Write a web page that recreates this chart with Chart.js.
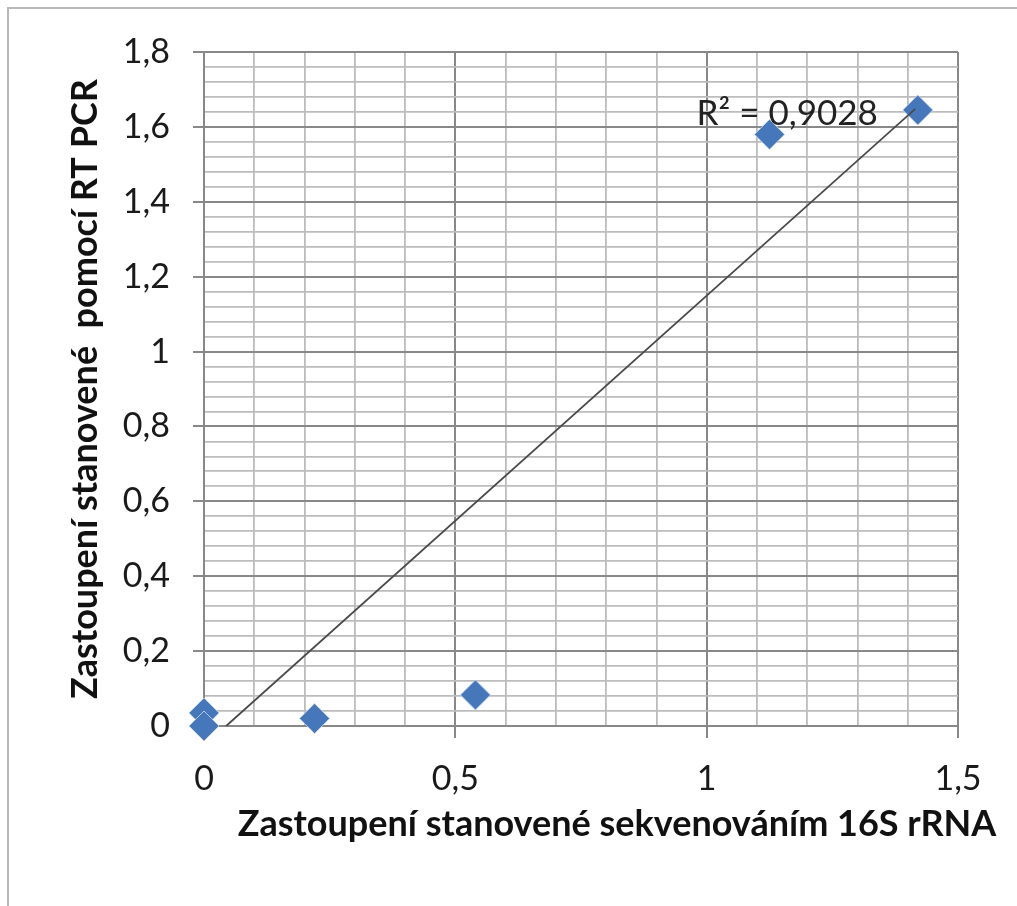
<!DOCTYPE html>
<html>
<head>
<meta charset="utf-8">
<script src="https://cdn.jsdelivr.net/npm/chart.js@4"></script>
<style>
html,body{margin:0;padding:0;background:#fff;}
#wrap{position:relative;width:1017px;height:906px;}
canvas{display:block;}
</style>
</head>
<body>
<div id="wrap"><canvas id="c" width="1017" height="906"></canvas></div>
<script>
// ---- data ----
const xValues = [0, 0, 0.22, 0.54, 1.125, 1.42];
const yValues = [0.035, 0, 0.02, 0.083, 1.58, 1.645];
const trendX = [0.044, 1.415];
const trendY = [0, 1.648];
const xMajorTicks = [0, 0.5, 1, 1.5];
const xTickLabels = ['0', '0,5', '1', '1,5'];
const yMajorTicks = [0, 0.2, 0.4, 0.6, 0.8, 1, 1.2, 1.4, 1.6, 1.8];
const yTickLabels = ['0', '0,2', '0,4', '0,6', '0,8', '1', '1,2', '1,4', '1,6', '1,8'];
const xTitle = 'Zastoupení stanovené sekvenováním 16S rRNA';
const yTitle = 'Zastoupení stanovené  pomocí RT PCR';
const r2Text = 'R² = 0,9028';
const r2Anchor = {x: 0.98, y: 1.606};

const FONT = 'Lato, "Open Sans", sans-serif';

function majorIndex(list, v) {
  for (let i = 0; i < list.length; i++) if (Math.abs(list[i] - v) < 1e-6) return i;
  return -1;
}

const scatterData = xValues.map((x, i) => ({x: x, y: yValues[i]}));
const trendData = trendX.map((x, i) => ({x: x, y: trendY[i]}));

const framePlugin = {
  id: 'frame',
  beforeDraw(chart) {
    const ctx = chart.ctx;
    ctx.save();
    ctx.fillStyle = '#fff';
    ctx.fillRect(0, 0, chart.width, chart.height);
    ctx.strokeStyle = '#b8b8b8';
    ctx.lineWidth = 2;
    ctx.strokeRect(8, 8, 1200, 1100);
    ctx.restore();
  },
  afterDraw(chart) {
    const ctx = chart.ctx;
    const xs = chart.scales.x, ys = chart.scales.y;
    ctx.save();
    // R² label
    ctx.font = '35px ' + FONT;
    ctx.fillStyle = '#222';
    ctx.textAlign = 'left';
    ctx.textBaseline = 'alphabetic';
    ctx.fillText(r2Text, xs.getPixelForValue(r2Anchor.x), ys.getPixelForValue(r2Anchor.y));
    // x axis title
    ctx.font = 'bold 36px ' + FONT;
    ctx.fillStyle = '#111';
    ctx.textAlign = 'center';
    ctx.fillText(xTitle, 617, 836);
    ctx.restore();
  }
};

new Chart(document.getElementById('c'), {
  type: 'scatter',
  data: {
    datasets: [
      {
        type: 'line',
        label: 'trend',
        data: trendData,
        borderColor: '#4a4a4a',
        borderWidth: 1.7,
        pointRadius: 0,
        fill: false,
        order: 0,
        clip: false
      },
      {
        label: 'data',
        data: scatterData,
        pointStyle: 'rectRot',
        pointRadius: 15,
        pointHoverRadius: 15,
        backgroundColor: '#4677BA',
        borderColor: 'rgba(190,210,240,0.9)',
        borderWidth: 1,
        order: 1,
        clip: false
      }
    ]
  },
  plugins: [framePlugin],
  options: {
    responsive: false,
    animation: false,
    events: [],
    layout: {padding: {left: 0, top: 52, right: 59, bottom: 0}},
    plugins: {legend: {display: false}, tooltip: {enabled: false}},
    scales: {
      x: {
        type: 'linear',
        min: 0, max: 1.5,
        afterFit(s) { s.height = 180; },
        ticks: {
          stepSize: 0.1,
          autoSkip: false,
          maxRotation: 0,
          padding: 21,
          color: '#1a1a1a',
          font: {family: FONT, size: 34},
          callback(v) { const i = majorIndex(xMajorTicks, v); return i >= 0 ? xTickLabels[i] : ''; }
        },
        grid: {
          drawTicks: true,
          tickLength: 12,
          color(c) { return majorIndex(xMajorTicks, c.tick.value) >= 0 ? '#888888' : '#bcbcbc'; },
          lineWidth(c) { return majorIndex(xMajorTicks, c.tick.value) >= 0 ? 2 : 1.8; },
          tickColor(c) { return majorIndex(xMajorTicks, c.tick.value) >= 0 ? '#888888' : 'rgba(0,0,0,0)'; }
        },
        border: {display: true, color: '#888888', width: 2}
      },
      y: {
        type: 'linear',
        min: 0, max: 1.8,
        afterFit(s) { s.width = 204; },
        ticks: {
          stepSize: 0.04,
          autoSkip: false,
          padding: 23,
          color: '#1a1a1a',
          font: {family: FONT, size: 34},
          callback(v) { const i = majorIndex(yMajorTicks, v); return i >= 0 ? yTickLabels[i] : ''; }
        },
        grid: {
          drawTicks: true,
          tickLength: 11,
          color(c) { return majorIndex(yMajorTicks, c.tick.value) >= 0 ? '#888888' : '#bcbcbc'; },
          lineWidth(c) { return majorIndex(yMajorTicks, c.tick.value) >= 0 ? 2 : 1.8; },
          tickColor(c) { return majorIndex(yMajorTicks, c.tick.value) >= 0 ? '#888888' : 'rgba(0,0,0,0)'; }
        },
        border: {display: true, color: '#888888', width: 2},
        title: {
          display: true,
          text: yTitle,
          color: '#111',
          font: {family: FONT, size: 36, weight: 'bold'},
          padding: {top: 64, bottom: 0}
        }
      }
    }
  }
});
</script>
</body>
</html>
